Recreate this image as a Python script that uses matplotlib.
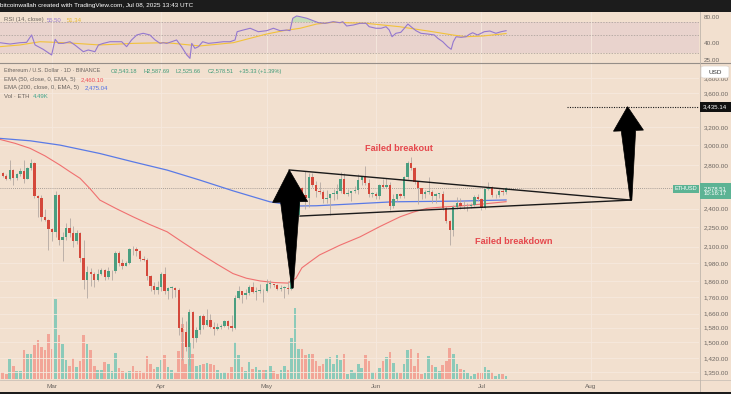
import numpy as np
import pandas as pd
import matplotlib
matplotlib.use('Agg')
import matplotlib.pyplot as plt
import matplotlib.dates as mdates
from matplotlib.patches import Polygon, Rectangle, FancyBboxPatch
from matplotlib.ticker import FixedLocator, NullLocator
from matplotlib.transforms import IdentityTransform

plt.rcParams['font.family'] = ['Liberation Sans', 'DejaVu Sans']

# ---------------- data (ETH/USD daily, Binance) ----------------
start = '2025-02-14'
end = '2025-07-08'

opens = [
    2675, 2725, 2695, 2665, 2745, 2670, 2715, 2740, 2665, 2765, 2815, 2510, 2490, 2335, 2305,
    2235, 2215, 2520, 2150, 2170, 2240, 2200, 2140, 2200, 2020, 1865, 1920, 1910, 1865, 1910, 1935,
    1885, 1925, 1930, 2055, 1980, 1965, 1985, 2085, 2080, 2070, 2010, 2005, 1895, 1830, 1805,
    1820, 1905, 1795, 1815, 1815, 1805, 1580, 1555, 1475, 1670, 1525, 1565, 1645, 1595, 1625,
    1585, 1575, 1585, 1590, 1615, 1590, 1580, 1755, 1795, 1770, 1785, 1820, 1790, 1800, 1800,
    1795, 1840, 1840, 1835, 1810, 1815, 1815, 1810, 2200, 2345, 2580, 2515, 2495, 2680, 2610,
    2550, 2545, 2485, 2495, 2525, 2525, 2550, 2665, 2525, 2535, 2550, 2565, 2655, 2680, 2630, 2530,
    2530, 2510, 2605, 2590, 2610, 2420, 2480, 2525, 2510, 2680, 2820, 2770, 2640, 2580, 2530,
    2545, 2545, 2510, 2525, 2525, 2410, 2295, 2230, 2415, 2445, 2420, 2420, 2420, 2435, 2500,
    2485, 2405, 2575, 2590, 2515, 2515, 2550, 2543.18,
]
highs = [
    2790, 2735, 2710, 2845, 2755, 2725, 2770, 2845, 2775, 2855, 2830, 2520, 2520, 2400, 2315,
    2245, 2550, 2525, 2210, 2285, 2320, 2260, 2225, 2215, 2150, 1960, 1950, 1920, 1945, 1950, 1945,
    1955, 1935, 2070, 2070, 2010, 1995, 2090, 2105, 2095, 2075, 2035, 2015, 1900, 1855, 1860,
    1920, 1955, 1820, 1830, 1820, 1815, 1640, 1620, 1690, 1675, 1585, 1650, 1660, 1690, 1660,
    1610, 1605, 1600, 1625, 1625, 1650, 1770, 1830, 1800, 1810, 1835, 1855, 1820, 1840, 1810,
    1875, 1865, 1845, 1845, 1835, 1830, 1860, 2230, 2410, 2590, 2590, 2740, 2725, 2720, 2645,
    2640, 2560, 2565, 2530, 2575, 2620, 2735, 2725, 2575, 2555, 2595, 2710, 2690, 2790, 2660, 2545,
    2545, 2615, 2660, 2675, 2640, 2530, 2530, 2535, 2690, 2835, 2880, 2775, 2650, 2580, 2560,
    2680, 2560, 2540, 2540, 2550, 2425, 2310, 2430, 2500, 2490, 2475, 2450, 2445, 2515, 2525,
    2495, 2585, 2640, 2595, 2525, 2575, 2580, 2587.69,
]
lows = [
    2665, 2685, 2655, 2655, 2610, 2655, 2695, 2625, 2660, 2745, 2495, 2330, 2300, 2300, 2075,
    2140, 2170, 2110, 1995, 2150, 2175, 2100, 2120, 1990, 1810, 1755, 1830, 1820, 1860, 1900, 1865,
    1875, 1870, 1915, 1960, 1945, 1960, 1975, 2040, 2030, 1995, 1995, 1870, 1800, 1780, 1780,
    1800, 1780, 1745, 1755, 1760, 1540, 1410, 1455, 1385, 1470, 1505, 1545, 1570, 1590, 1580,
    1540, 1565, 1575, 1585, 1575, 1560, 1575, 1745, 1725, 1745, 1775, 1785, 1740, 1785, 1730,
    1790, 1815, 1825, 1805, 1800, 1755, 1780, 1805, 2185, 2335, 2470, 2400, 2415, 2590, 2500,
    2530, 2450, 2450, 2345, 2475, 2480, 2540, 2525, 2510, 2470, 2535, 2530, 2605, 2610, 2500, 2500,
    2480, 2485, 2585, 2580, 2385, 2405, 2470, 2490, 2490, 2660, 2750, 2620, 2440, 2480, 2490,
    2530, 2450, 2450, 2495, 2390, 2280, 2110, 2180, 2395, 2400, 2400, 2380, 2410, 2425, 2470,
    2390, 2395, 2560, 2505, 2495, 2500, 2520, 2525.66,
]
closes = [
    2725, 2695, 2665, 2745, 2670, 2715, 2740, 2665, 2765, 2815, 2510, 2490, 2335, 2305, 2235,
    2215, 2520, 2150, 2170, 2240, 2200, 2140, 2200, 2020, 1865, 1920, 1910, 1865, 1910, 1935, 1885,
    1925, 1930, 2055, 1980, 1965, 1985, 2085, 2080, 2070, 2010, 2005, 1895, 1830, 1805, 1820,
    1905, 1795, 1815, 1815, 1805, 1580, 1555, 1475, 1670, 1525, 1565, 1645, 1595, 1625, 1585,
    1575, 1585, 1590, 1615, 1590, 1580, 1755, 1795, 1770, 1785, 1820, 1790, 1800, 1800, 1795,
    1840, 1840, 1835, 1810, 1815, 1815, 1810, 2200, 2345, 2580, 2515, 2495, 2680, 2610, 2550,
    2545, 2485, 2495, 2525, 2525, 2550, 2665, 2525, 2535, 2550, 2565, 2655, 2680, 2630, 2530, 2530,
    2510, 2605, 2590, 2610, 2420, 2480, 2525, 2510, 2680, 2820, 2770, 2640, 2580, 2530, 2545,
    2545, 2510, 2525, 2525, 2410, 2295, 2230, 2415, 2445, 2420, 2420, 2420, 2435, 2500, 2485,
    2405, 2575, 2590, 2515, 2515, 2550, 2543.18, 2578.51,
]
volume = [
    30, 21, 14, 61, 38, 23, 24, 88, 76, 74, 103, 118, 96, 86, 136, 91,
    240, 133, 104, 56, 38, 64, 36, 53, 133, 106, 86, 40, 26, 26, 52, 44, 24, 78, 34, 24, 21, 24,
    38, 24, 24, 20, 68, 46, 31, 36, 58, 71, 36, 26, 21, 84, 166, 46, 111, 76, 38, 41, 46, 49,
    46, 41, 28, 18, 21, 18, 36, 111, 71, 36, 24, 50, 30, 36, 28, 28, 28, 38, 24, 16,
    26, 38, 26, 123, 214, 91, 91, 71, 74, 76, 54, 40, 46, 64, 66, 46, 71, 56, 74, 16,
    26, 21, 46, 34, 71, 54, 21, 21, 34, 54, 66, 81, 48, 21,
    18, 46, 88, 91, 40, 78, 16, 18, 68, 43, 36, 24, 43, 54,
    94, 74, 46, 31, 28, 18, 10, 14, 22, 18, 36, 28, 21, 8, 14, 16, 8,
]

# EMA readings (days after Feb 14, price)
ema50_day = [0.2, 4.5, 8.8, 13.0, 17.3, 20.0, 23.0, 25.8, 28.6, 33.3, 38.0, 42.8, 47.7, 52.3,
             57.0, 61.7, 66.4, 70.2, 74.1, 78.0, 82.0, 84.3, 86.0, 88.5, 91.0, 96.7,
             102.5, 108.2, 113.9, 117.7, 121.5, 126.2, 130.9, 137.4, 144.0]
ema50_val = [3062, 3020, 2967, 2890, 2797, 2735, 2670, 2575, 2474, 2400, 2333, 2270, 2213, 2130,
             2051, 1978, 1911, 1880, 1862, 1852, 1848, 1880, 1950, 1995, 2040, 2110,
             2174, 2255, 2333, 2372, 2403, 2415, 2423, 2440, 2460.10]
ema200_day = [0.2, 8.8, 17.3, 28.6, 38.0, 47.7, 57.0, 66.4, 76.9, 84.6, 90.0, 100.0, 111.9,
              121.0, 130.9, 144.0]
ema200_val = [3073, 3047, 3001, 2914, 2830, 2749, 2654, 2556, 2459, 2423, 2425, 2440, 2459,
              2462, 2465, 2475.04]

rsi_day = [0.2, 3.1, 5.9, 7.8, 9.2, 10.2, 12.5, 14.9, 15.9, 16.8, 18.2, 20.1, 21.5, 23.9, 25.3,
           27.2, 28.2, 29.6, 31.5, 32.9, 34.8, 36.2, 37.6, 39.1, 40.9, 42.8, 44.3, 45.7, 46.6,
           47.6, 49.0, 50.4, 51.8, 53.3, 54.2, 54.7, 55.6, 56.6, 57.8, 59.4, 61.3, 63.7, 65.6,
           67.0, 67.6, 69.3, 71.3, 73.6, 76.0, 77.9, 79.8, 81.7, 82.6, 83.4, 84.5, 85.5, 87.4,
           89.2, 90.7, 92.6, 94.9, 96.8, 97.6, 98.7, 100.6, 102.5, 104.2, 105.1, 107.0, 108.5,
           109.9, 110.8, 111.6, 112.7, 114.1, 115.1, 116.1, 117.0, 118.4, 119.8, 121.7, 123.6,
           124.6, 126.0, 127.4, 128.4, 129.0, 129.8, 131.2, 132.6, 133.6, 134.5, 135.9, 136.9,
           137.8, 139.4, 141.1, 142.6, 144.0]
rsi_val = [40.0, 38.6, 40.0, 40.4, 49.4, 37.6, 33.4, 28.6, 43.9, 39.3, 39.3, 41.1, 37.6, 31.3, 32.8,
           31.3, 37.6, 39.3, 41.1, 41.1, 41.1, 35.9, 43.1, 49.4, 51.7, 49.4, 43.1, 39.3, 40.0,
           39.3, 41.1, 43.1, 35.9, 28.6, 26.1, 39.3, 34.3, 35.9, 41.1, 39.3, 40.0, 41.1, 41.1,
           43.1, 54.0, 56.5, 59.3, 54.0, 55.5, 59.3, 55.5, 56.5, 55.5, 77.9, 82.9, 81.3, 77.9,
           72.9, 69.0, 67.9, 70.9, 69.0, 70.9, 63.1, 64.8, 67.9, 67.9, 61.9, 59.3, 59.3,
           61.9, 56.5, 47.1, 51.7, 53.1, 59.3, 66.6, 61.9, 55.5, 51.7, 50.7, 49.4,
           45.1, 41.1, 35.9, 33.4, 41.1, 47.1, 46.3, 47.1, 50.3, 52.5, 49.4, 51.7,
           54.0, 55.0, 51.7, 54.0, 55.5]
rsi_ma_day = [0.2, 5.9, 11.6, 19.2, 28.6, 38.1, 47.6, 57.0, 66.5, 71.3, 76.0, 80.7, 85.5, 90.2,
              94.9, 104.2, 113.7, 123.1, 128.8, 132.6, 137.3, 144.0]
rsi_ma_val = [35.9, 37.6, 41.1, 39.9, 37.6, 39.3, 40.0, 36.6, 40.0, 45.1, 50.7, 55.5, 59.3, 66.6,
              69.8, 67.9, 61.9, 54.0, 49.4, 47.1, 48.0, 51.34]

# pattern drawing anchors (days after Feb 14, price)
upper_line = [(82.4, 2750), (179.5, 2474)]
lower_line = [(85.45, 2339), (179.5, 2474)]
target_price = 3435.14
last_price = 2578.51

price_ticks = [3800, 3600, 3200, 3000, 2800, 2400, 2250, 2100, 1980, 1860, 1760,
               1660, 1580, 1500, 1420, 1350]
rsi_ticks = [80, 40, 25]
month_starts = ['2025-03-01', '2025-04-01', '2025-05-01', '2025-06-01', '2025-07-01', '2025-08-01']
month_labels = ['Mar', 'Apr', 'May', 'Jun', 'Jul', 'Aug']

# ---------------- style ----------------
W, H = 731, 394
BG = '#f2e0cf'
GREEN = '#4a9e80'
RED = '#d4483b'
VOL_UP = '#8ccab9'
VOL_DN = '#f2a597'
WICK = '#b3a9a2'
TXT = '#6b6560'
GRID = '#f6e9de'

dates = pd.date_range(start, end, freq='D')
x = mdates.date2num(dates)
day0 = x[0]
o, h, l, c = map(np.array, (opens, highs, lows, closes))
up = c >= o

fig = plt.figure(figsize=(W / 100, H / 100), dpi=100, facecolor=BG)


def fy(y):
    return 1 - y / H


xlim = (day0 + 0.23, day0 + 198.8)
ax_rsi = fig.add_axes([0, fy(63), 699 / W, 51 / H])
ax_vol = fig.add_axes([0, fy(380), 699 / W, 317 / H])
ax = fig.add_axes([0, fy(380), 699 / W, 317 / H])
ax_vol.set_zorder(1)
ax.set_zorder(2)
ax.patch.set_visible(False)
for a in (ax_rsi, ax_vol, ax):
    a.set_facecolor(BG)
    a.set_xlim(*xlim)
    for s in a.spines.values():
        s.set_visible(False)

month_x = mdates.date2num(pd.to_datetime(month_starts))

# ---------------- RSI pane ----------------
ax_rsi.set_yscale('log')
ax_rsi.set_ylim(23.0, 92.4)
ax_rsi.axhspan(30, 70, color='#e9d3cd', zorder=0, lw=0)
for lvl in (70, 50, 30):
    ax_rsi.axhline(lvl, color='#a39b95', lw=0.5, ls=(0, (2, 2)), zorder=1)
for mx in month_x:
    ax_rsi.axvline(mx, color=GRID, lw=0.6, zorder=0.5)
rd = day0 + np.array(rsi_day)
rv = np.array(rsi_val)
ax_rsi.fill_between(rd, rv, 70, where=rv > 70, interpolate=True, color='#bcdcb4', alpha=0.8, lw=0)
ax_rsi.fill_between(rd, rv, 30, where=rv < 30, interpolate=True, color='#f0b7b0', alpha=0.8, lw=0)
ax_rsi.plot(day0 + np.array(rsi_ma_day), rsi_ma_val, color='#f2c23a', lw=0.8, zorder=3)
ax_rsi.plot(rd, rv, color='#9478cf', lw=0.8, zorder=4)
ax_rsi.yaxis.tick_right()
ax_rsi.yaxis.set_major_locator(FixedLocator(rsi_ticks))
ax_rsi.yaxis.set_minor_locator(NullLocator())
ax_rsi.set_yticklabels([f'{t:.2f}' for t in rsi_ticks])
ax_rsi.tick_params(axis='y', length=0, pad=3.5, labelsize=4.6, labelcolor=TXT)
ax_rsi.set_xticks([])

# ---------------- volume ----------------
ax_vol.set_ylim(-3, 951)
ax_vol.bar(x, volume, width=0.74, color=np.where(up, VOL_UP, VOL_DN), lw=0, zorder=2)
ax_vol.set_xticks([])
ax_vol.set_yticks([])

# ---------------- price pane ----------------
ax.set_yscale('log')
ax.set_ylim(1314.6, 4005)
ax.yaxis.tick_right()
ax.yaxis.set_major_locator(FixedLocator(price_ticks))
ax.yaxis.set_minor_locator(NullLocator())
ax.set_yticklabels([f'{t:,.2f}' for t in price_ticks])
ax.tick_params(axis='y', length=0, pad=3.5, labelsize=4.6, labelcolor=TXT)
ax.set_xticks(month_x)
ax.set_xticklabels(month_labels)
ax.xaxis.set_minor_locator(NullLocator())
ax.tick_params(axis='x', length=0, pad=2.6, labelsize=4.6, labelcolor=TXT)
for t in price_ticks:
    ax.axhline(t, color=GRID, lw=0.6, zorder=0.5)
for mx in month_x:
    ax.axvline(mx, color=GRID, lw=0.6, zorder=0.5)

ax.axhline(last_price, color='#8f8a86', lw=0.6, ls=(0, (1, 1.5)), zorder=1)

ax.plot(day0 + np.array(ema200_day), ema200_val, color='#5a7ae6', lw=0.9, zorder=3)
ax.plot(day0 + np.array(ema50_day), ema50_val, color='#f07070', lw=0.8, zorder=3)

ax.vlines(x, l, h, color=WICK, lw=0.6, zorder=4)
body_lo = np.minimum(o, c)
body_h = np.maximum(np.abs(c - o), body_lo * 0.003)
ax.bar(x, body_h, bottom=body_lo, width=0.68, color=np.where(up, GREEN, RED), lw=0, zorder=5)

# triangle
for (d1, p1), (d2, p2) in (upper_line, lower_line):
    ax.plot([day0 + d1, day0 + d2], [p1, p2], color='#1a1a1a', lw=1.0, zorder=6)

ax.plot([day0 + 161.2, xlim[1]], [target_price] * 2, color='#1a1a1a', lw=0.8,
        ls=(0, (1, 1.2)), zorder=6)


def big_arrow(tip, base, head_len, head_half, shaft_top, shaft_bot):
    t = ax.transData.transform((day0 + tip[0], tip[1]))
    b = ax.transData.transform((day0 + base[0], base[1]))
    d = t - b
    u = d / np.hypot(*d)
    n = np.array([-u[1], u[0]])
    hb = t - u * head_len
    pts = [t, hb + n * head_half, hb + n * shaft_top, b + n * shaft_bot,
           b - n * shaft_bot, hb - n * shaft_top, hb - n * head_half]
    ax.add_patch(Polygon(pts, closed=True, transform=IdentityTransform(),
                         fc='black', ec='black', lw=0.5, zorder=7))


big_arrow((82.4, 2750), (83.3, 1816), 32, 17.5, 9.5, 0.8)
big_arrow((178.5, target_price), (179.5, 2474), 24, 15, 7.2, 0.8)

ax.text(day0 + 113.6, 2970, 'Failed breakout', color='#e5484d', fontsize=6.6,
        fontweight='bold', ha='center', va='center', zorder=8)
ax.text(day0 + 146.2, 2142, 'Failed breakdown', color='#e5484d', fontsize=6.6,
        fontweight='bold', ha='center', va='center', zorder=8)

# ---------------- frame, header, legends ----------------
fig.patches.append(Rectangle((0, fy(12)), 1, 12 / H, transform=fig.transFigure,
                             fc='#1c1c1c', ec='none', zorder=5))
fig.patches.append(Rectangle((0, 0), 1, 2.5 / H, transform=fig.transFigure,
                             fc='#1c1c1c', ec='none', zorder=5))
fig.lines.append(plt.Line2D([0, 1], [fy(63.3)] * 2, transform=fig.transFigure,
                            color='#958e88', lw=0.8, zorder=5))
fig.lines.append(plt.Line2D([0, 1], [fy(380.3)] * 2, transform=fig.transFigure,
                            color='#cbc1b8', lw=0.6, zorder=5))
fig.lines.append(plt.Line2D([699.5 / W] * 2, [fy(391.5), fy(12)], transform=fig.transFigure,
                            color='#bfb5ac', lw=0.6, zorder=5))

fig.text(0.5 / W, fy(6), 'bitcoinwallah created with TradingView.com, Jul 08, 2025 13:43 UTC',
         color='white', fontsize=4.6, va='center', ha='left', zorder=6)


def ftext(px, py, s, color=TXT, size=4.3):
    fig.text(px / W, fy(py), s, color=color, fontsize=size, va='center', ha='left', zorder=6)


ftext(4, 20, 'RSI (14, close)')
ftext(46.5, 20, f'{rsi_val[-1]:.2f}', '#9478cf')
ftext(66.5, 20, f'{rsi_ma_val[-1]:.2f}', '#e8b830')

ftext(4, 71, 'Ethereum / U.S. Dollar · 1D · BINANCE', size=4.0)
ohlc_txt = [(111, f'O{o[-1]:,.2f}'), (143, f'H{h[-1]:,.2f}'), (175.5, f'L{l[-1]:,.2f}'),
            (208, f'C{c[-1]:,.2f}'),
            (239.5, f'{c[-1] - o[-1]:+.2f} ({(c[-1] - o[-1]) / o[-1] * 100:+.2f}%)')]
for px, s in ohlc_txt:
    ftext(px, 71, s, '#3d9a78', size=4.1)
ftext(4, 79.5, 'EMA (50, close, 0, EMA, 5)')
ftext(81, 79.5, f'{ema50_val[-1]:,.2f}', '#ef4d55')
ftext(4, 88, 'EMA (200, close, 0, EMA, 5)')
ftext(85, 88, f'{ema200_val[-1]:,.2f}', '#4f6fe6')
ftext(4, 96, 'Vol · ETH')
ftext(32.5, 96, '4.49K', '#3fa58c')


def box(x0, y0, x1, y1, fc, s, tc, size=4.4, ec='none', rounded=False):
    style = 'round,pad=0,rounding_size=0.004' if rounded else 'square,pad=0'
    fig.patches.append(FancyBboxPatch((x0 / W, fy(y1)), (x1 - x0) / W, (y1 - y0) / H,
                                      boxstyle=style, transform=fig.transFigure,
                                      fc=fc, ec=ec, lw=0.5, zorder=7))
    fig.text((x0 + x1) / 2 / W, fy((y0 + y1) / 2), s, color=tc, fontsize=size,
             ha='center', va='center', zorder=8, linespacing=1.1)


def price_y(p):
    return H - ax.transData.transform((xlim[0], p))[1]


ty = price_y(target_price)
py_ = price_y(last_price)
box(701, 66, 729, 78, 'white', 'USD', '#333333', size=4.6, ec='#dcd2c9', rounded=True)
box(699.5, ty - 5, 731, ty + 5, '#111111', f'{target_price:,.2f}', 'white')
box(673, py_ - 3.5, 699, py_ + 4.5, '#5cb394', 'ETHUSD', 'white', size=4.0)
box(699.5, py_ - 5, 731, py_ + 11, '#5cb394', f'{last_price:,.2f}\n10:16:17', 'white', size=4.2)

fig.savefig('out.png', dpi=100, facecolor=BG)
